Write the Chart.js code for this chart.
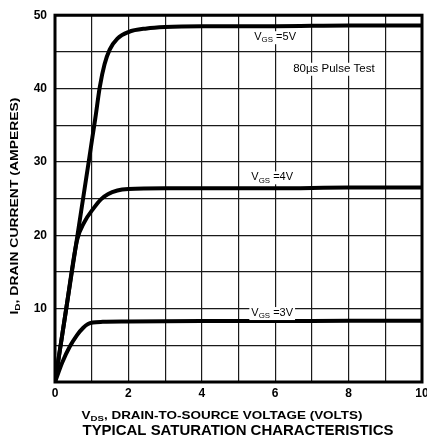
<!DOCTYPE html>
<html>
<head>
<meta charset="utf-8">
<script src="https://cdn.jsdelivr.net/npm/chart.js@4"></script>
<style>
	body { margin: 0; background: #fff; }
	canvas { display: block; }
</style>
</head>
<body>
<canvas id="myChart" width="427" height="442"></canvas>
<script>
// curve points (VDS in volts, ID in amperes)
const vds5V = [0, 0.3, 0.6, 0.9, 1.02, 1.1, 1.22, 1.35, 1.49, 1.7, 2, 2.5, 3, 4, 6, 8, 10];
const id5V = [0, 9.8, 19.6, 29.4, 33.4, 36, 40.2, 43.3, 45.3, 46.8, 47.7, 48.2, 48.4, 48.5, 48.5, 48.6, 48.6];

const vds4V = [0, 0.3, 0.6, 0.8, 1.04, 1.25, 1.44, 1.7, 2, 3, 4, 6, 8, 10];
const id4V = [0, 9.8, 19.3, 21.8, 23.6, 24.9, 25.6, 26.1, 26.3, 26.4, 26.4, 26.4, 26.5, 26.5];

const vds3V = [0, 0.2, 0.4, 0.6, 0.77, 0.9, 1.03, 1.3, 2, 4, 6, 8, 10];
const id3V = [0, 2.7, 4.8, 6.4, 7.4, 7.9, 8.1, 8.2, 8.25, 8.3, 8.3, 8.35, 8.35];

const xTickLabels = [0, 2, 4, 6, 8, 10];
const yTickLabels = [10, 20, 30, 40, 50];

// annotation text: [x, y, parts]
const notes = [
	[5.43, 47.0, [["V"], ["GS", true], [" =5V"]]],
	[6.49, 42.7, [["80\u00b5s Pulse Test"]]],
	[5.35, 27.9, [["V"], ["GS", true], [" =4V"]]],
	[5.35, 9.4, [["V"], ["GS", true], [" =3V"]]],
];

const FONT = "'Liberation Sans', Arial, sans-serif";

function toPoints(xs, ys) {
	return xs.map((x, i) => ({ x: x, y: ys[i] }));
}

function curve(xs, ys) {
	return {
		data: toPoints(xs, ys),
		borderColor: "#000",
		borderWidth: 4,
		pointRadius: 0,
		cubicInterpolationMode: "monotone",
		fill: false,
	};
}

// width of text with subscript parts
function richWidth(ctx, parts, size, bold) {
	var w = 0;
	parts.forEach(function (p) {
		var s = p[1] ? size * 0.72 : size;
		ctx.font = (bold ? "bold " : "") + s + "px " + FONT;
		w += ctx.measureText(p[0]).width;
	});
	return w;
}

function drawRich(ctx, parts, x, y, size, bold) {
	var cx = x;
	ctx.textBaseline = "middle";
	ctx.textAlign = "left";
	parts.forEach(function (p) {
		var s = p[1] ? size * 0.72 : size;
		ctx.font = (bold ? "bold " : "") + s + "px " + FONT;
		ctx.fillText(p[0], cx, p[1] ? y + size * 0.28 : y);
		cx += ctx.measureText(p[0]).width;
	});
}

// centred and stretched to a given width
function drawFit(ctx, parts, cx, cy, size, bold, width) {
	var w = richWidth(ctx, parts, size, bold);
	ctx.save();
	ctx.translate(cx, cy);
	ctx.scale(width / w, 1);
	drawRich(ctx, parts, -w / 2, 0, size, bold);
	ctx.restore();
}

const extras = {
	id: "extras",
	afterDraw: function (chart) {
		var ctx = chart.ctx;
		var a = chart.chartArea;
		var xs = chart.scales.x;
		var ys = chart.scales.y;
		ctx.save();

		// frame
		ctx.strokeStyle = "#000";
		ctx.lineWidth = 3;
		ctx.strokeRect(a.left, a.top, a.right - a.left, a.bottom - a.top);

		// notes with white boxes
		notes.forEach(function (n) {
			var px = xs.getPixelForValue(n[0]);
			var py = ys.getPixelForValue(n[1]);
			var size = n[2].length == 1 ? 11.5 : 11;
			var w = richWidth(ctx, n[2], size, false);
			ctx.fillStyle = "#fff";
			ctx.fillRect(px - 2, py - 6, w + 4, 13);
			ctx.fillStyle = "#000";
			drawRich(ctx, n[2], px, py, size, false);
		});

		// x title
		drawFit(ctx, [["V"], ["DS", true], [", DRAIN-TO-SOURCE VOLTAGE (VOLTS)"]], 222, 416, 11, true, 281);

		// main title
		drawFit(ctx, [["TYPICAL SATURATION CHARACTERISTICS"]], 238, 431, 15, true, 311);

		// y title
		ctx.translate(15, 206);
		ctx.rotate(-Math.PI / 2);
		drawFit(ctx, [["I"], ["D", true], [", DRAIN CURRENT (AMPERES)"]], 0, 0, 11, true, 217);
		ctx.restore();
	},
};

var ctx = document.getElementById("myChart").getContext("2d");
var chartCanvas = new Chart(ctx, {
	type: "line",
	data: {
		datasets: [curve(vds5V, id5V), curve(vds4V, id4V), curve(vds3V, id3V)],
	},
	options: {
		responsive: false,
		animation: false,
		layout: { padding: { top: 11, right: 5, left: 0, bottom: 0 } },
		plugins: { legend: { display: false }, tooltip: { enabled: false } },
		scales: {
			x: {
				type: "linear",
				min: 0,
				max: 10,
				ticks: {
					stepSize: 1,
					autoSkip: false,
					maxRotation: 0,
					padding: 4,
					color: "#000",
					font: { family: FONT, size: 12, weight: "bold" },
					callback: (v) => (xTickLabels.includes(v) ? v : ""),
				},
				grid: { color: "#1a1a1a", lineWidth: 1.2, drawTicks: false },
				border: { display: false },
				afterFit: function (s) {
					s.height = 60;
					s.paddingLeft = 0;
					s.paddingRight = 0;
				},
			},
			y: {
				min: 0,
				max: 50,
				ticks: {
					stepSize: 5,
					autoSkip: false,
					padding: 8,
					color: "#000",
					font: { family: FONT, size: 12, weight: "bold" },
					callback: (v) => (yTickLabels.includes(v) ? v : ""),
				},
				grid: { color: "#1a1a1a", lineWidth: 1.2, drawTicks: false },
				border: { display: false },
				afterFit: function (s) {
					s.width = 55;
				},
			},
		},
	},
	plugins: [extras],
});
</script>
</body>
</html>
